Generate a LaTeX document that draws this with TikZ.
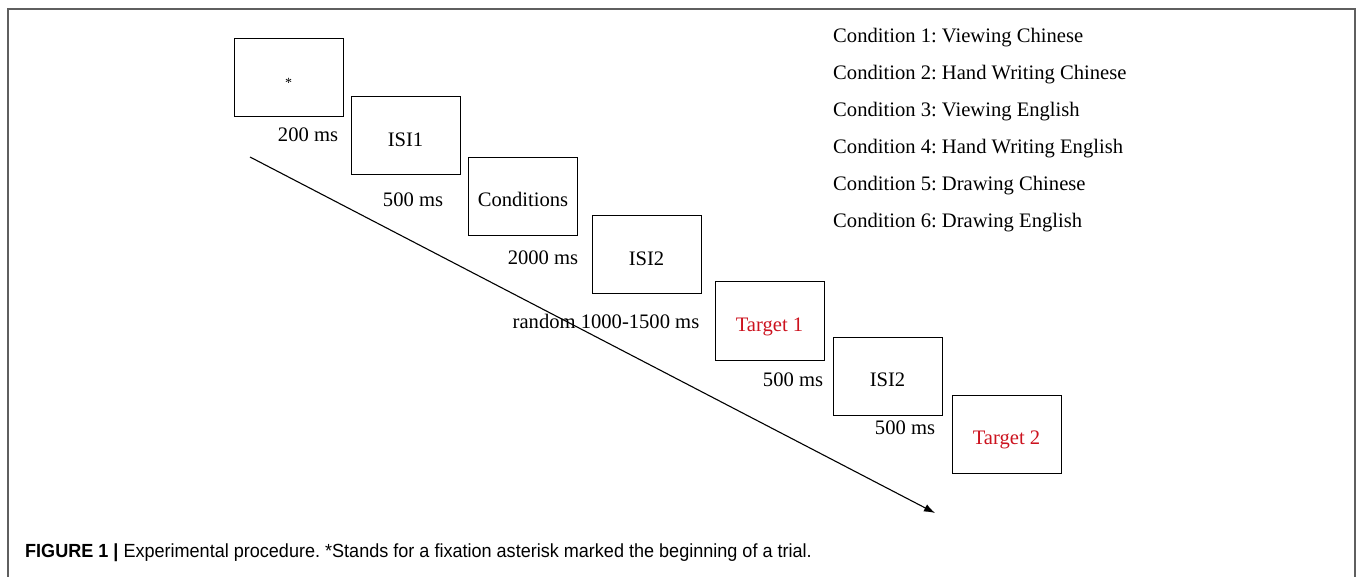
\documentclass[tikz,border=0pt]{standalone}
\usepackage{xcolor}
\usepackage{fontspec}
\usepackage{tikz}
\usetikzlibrary{positioning, arrows, arrows.meta}
\setmainfont{Liberation Serif}
\newfontfamily\capfont[FakeStretch=0.95]{Liberation Sans}
\definecolor{targetred}{RGB}{204,18,30}
\definecolor{framegray}{RGB}{95,95,95}
\newcommand{\trialfont}{\fontsize{20.6}{24}\selectfont}
\newcommand{\target}[1]{\textcolor{targetred}{#1}}
\frenchspacing

\begin{document}
\begin{tikzpicture}[
				x=1pt, y=-1pt,
				>={Latex[length=11pt, width=8pt]},
				on grid,
				font=\trialfont,
				screen/.style={draw, line width=1pt, rectangle, minimum width=109pt, minimum height=78pt,
					text height=22pt, text depth=1pt, inner sep=0pt},
				dur/.style={anchor=base, inner sep=0pt},
				cond/.style={anchor=base west, inner sep=0pt}]

			\useasboundingbox (0,0) rectangle (1357,577);
			\draw[framegray, line width=1.5pt] (8,577) -- (8,9) -- (1355,9) -- (1355,577);

			\node[screen] (fixation) at (288.5,78) {};
			\node[font=\fontsize{14}{14}\selectfont] (star) at (288.5,83) {*};
			\node[screen, below right=58pt and 117pt of fixation] (isi1) {ISI1};
			\node[screen, below right=60.5pt and 117.5pt of isi1] (conditions) {Conditions};
			\node[screen, below right=58.5pt and 123.5pt of conditions] (isi2) {ISI2};
			\node[screen, below right=66pt and 123pt of isi2] (target1) {\target{Target 1}};
			\node[screen, below right=55pt and 118pt of target1] (isi2b) {ISI2};
			\node[screen, below right=58pt and 119pt of isi2b] (target2) {\target{Target 2}};

			\node[dur] (t200) at (308,142) {200 ms};
			\node[dur] (t500a) at (413,207) {500 ms};
			\node[dur] (t2000) at (543,265) {2000 ms};
			\node[dur] (trandom) at (606,328) {random 1000-1500 ms};
			\node[dur] (t500b) at (793,386) {500 ms};
			\node[dur] (t500c) at (905,434) {500 ms};

			\node[cond] (c1) at (833,43) {Condition 1: Viewing Chinese};
			\node[cond] (c2) at (833,80) {Condition 2: Hand Writing Chinese};
			\node[cond] (c3) at (833,117) {Condition 3: Viewing English};
			\node[cond] (c4) at (833,154) {Condition 4: Hand Writing English};
			\node[cond] (c5) at (833,191) {Condition 5: Drawing Chinese};
			\node[cond] (c6) at (833,228) {Condition 6: Drawing English};

			\coordinate (time_begin) at (250,157);
			\coordinate (time_end) at (935,513);
			\draw[->, line width=1.1pt] (time_begin) -- (time_end);

			\node[anchor=base west, inner sep=0pt, font=\capfont\fontsize{19}{22}\selectfont] (caption) at (25,557)
				{\textbf{FIGURE 1 |} Experimental procedure. *Stands for a fixation asterisk marked the beginning of a trial.};

		\end{tikzpicture}
\end{document}
